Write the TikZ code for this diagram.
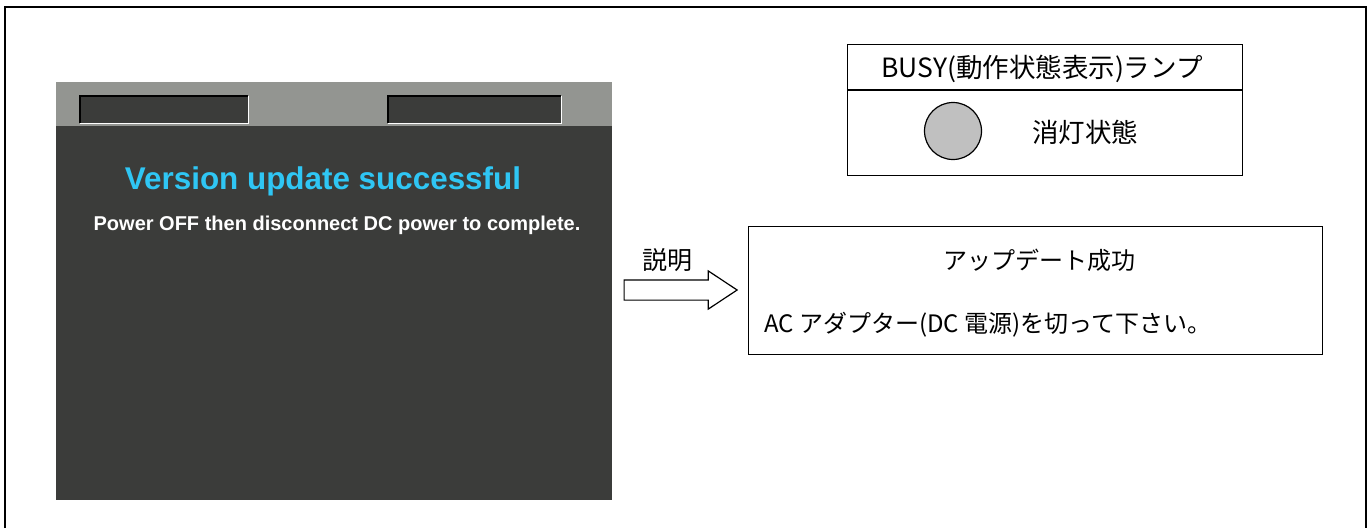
\documentclass[tikz,border=0pt]{standalone}
\usepackage{fontspec}
\setmainfont{Liberation Sans}
\newfontfamily\jpfont{Noto Sans CJK JP}
\usetikzlibrary{shapes,arrows,positioning}

\definecolor{screendark}{HTML}{3B3C3A}
\definecolor{screenbar}{HTML}{939591}
\definecolor{screencyan}{HTML}{2FC6F4}
\definecolor{lampoff}{HTML}{C0C0C0}

\tikzset{
  infobox/.style={rectangle, draw=black, line width=1.2pt, inner sep=0pt},
  fieldbox/.style={rectangle, fill=screendark, inner sep=0pt, minimum width=168pt, minimum height=27pt, anchor=north west},
  jptext/.style={font=\jpfont\fontsize{24}{28}\selectfont, inner sep=0pt},
}

\begin{document}
\begin{tikzpicture}[x=1pt, y=-1pt]
      %\draw[help lines] (0, 0) grid[step=100] (1370, 528);
      \useasboundingbox (0,0) rectangle (1370,528);

      \coordinate (frameBL) at (4.5,528);
      \coordinate (frameTL) at (4.5,7);
      \coordinate (frameTR) at (1366,7);
      \coordinate (frameBR) at (1366,528);
      \draw[line width=2pt] (frameBL) -- (frameTL) -- (frameTR) -- (frameBR);

      % screen
      \fill[screendark] (56,82) rectangle (612,500);
      \fill[screenbar] (56,82) rectangle (612,126);

      \node [fieldbox] (fieldA) at (80,96) {};
      \node [fieldbox, minimum width=173pt] (fieldB) at (388,96) {};
      \foreach \f in {fieldA, fieldB} {
        \draw[black, line width=1.2pt] (\f.south west) -- (\f.north west) -- (\f.north east);
        \draw[white, line width=1.2pt] (\f.north east) -- (\f.south east) -- (\f.south west);
      }

      \node [text=screencyan, font=\bfseries\fontsize{31.4}{34}\selectfont, inner sep=0pt] (title) at (323,181) {Version update successful};
      \node [text=white, font=\bfseries\fontsize{20}{24}\selectfont, inner sep=0pt] (subtitle) at (337,225) {Power OFF then disconnect DC power to complete.};

      % arrow to explanation
      \node [single arrow, draw=black, line width=1.2pt, fill=white, minimum height=113pt, minimum width=37pt,
             single arrow head extend=9pt, single arrow head indent=0pt, single arrow tip angle=67,
             inner xsep=0pt, inner ysep=9.5pt, anchor=tail] (explArrow) at (623.5,290) {};
      \node [jptext, font=\jpfont\fontsize{25}{28}\selectfont] (explLabel) at (667,260) {説明};

      % explanation box
      \node [infobox, minimum width=574pt, minimum height=128pt, anchor=north west] (explBox) at (748,226) {};
      \node [jptext] (explTitle) at (1039,260) {アップデート成功};
      \node [jptext, anchor=west] (explText) at (764,325) {AC アダプター(DC 電源)を切って下さい。};

      % BUSY lamp
      \node [infobox, minimum width=395pt, minimum height=131pt, anchor=north west] (lampBox) at (847,44) {};
      \coordinate (lampDivL) at (847,90);
      \coordinate (lampDivR) at (1242,90);
      \draw[line width=1.2pt] (lampDivL) -- (lampDivR);
      \node [jptext, font=\jpfont\fontsize{26.5}{30}\selectfont] (lampTitle) at (1042,69) {BUSY(動作状態表示)ランプ};
      \node [circle, draw=black, line width=1.2pt, fill=lampoff, minimum size=57pt, inner sep=0pt] (lamp) at (953,131) {};
      \node [jptext, font=\jpfont\fontsize{26.5}{30}\selectfont] (lampState) at (1085,132) {消灯状態};

\end{tikzpicture}
\end{document}
